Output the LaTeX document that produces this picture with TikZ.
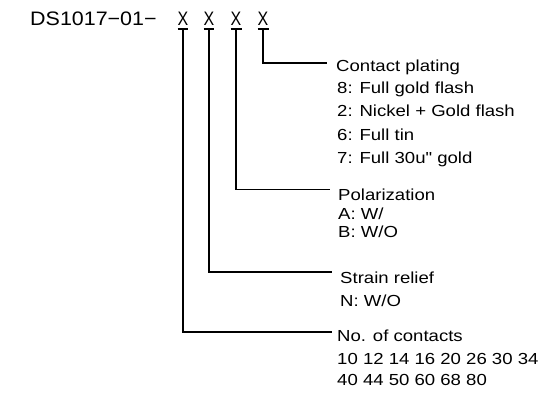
\documentclass[tikz,border=0pt]{standalone}
\usepackage{fontspec}
\setmainfont{Liberation Sans}[Ligatures=TeXOff]
\usetikzlibrary{calc}
\begin{document}
\begin{tikzpicture}[x=1pt,y=-1pt,
  lbl/.style={anchor=base west, inner sep=0pt, font=\fontsize{16}{19}\selectfont, xscale=1.16},
  code/.style={anchor=base west, inner sep=0pt, font=\fontsize{19.5}{22}\selectfont, xscale=1.1},
  digit/.style={anchor=base, inner sep=0pt, font=\fontsize{19.5}{22}\selectfont, xscale=0.82},
  conn/.style={line width=1.8pt},
  uline/.style={line width=1.5pt},
]
\useasboundingbox (0,0) rectangle (551,398);
% part number
\node[code] (pre) at (30,25.5) {DS1017−01−};
\node[digit] (x1) at (183,25.5) {X};
\node[digit] (x2) at (209,25.5) {X};
\node[digit] (x3) at (236,25.5) {X};
\node[digit] (x4) at (263,25.5) {X};
\foreach \n in {x1,x2,x3,x4}{
  \draw[uline] ($(\n.base west)+(0,3.5)$) -- ($(\n.base east)+(0,3.5)$);
}
% labels
\node[lbl] (cp) at (336,71.5) {Contact plating};
\node[lbl] (cp8) at (337,93.5) {8: Full gold flash};
\node[lbl] (cp2) at (337,117) {2: Nickel + Gold flash};
\node[lbl] (cp6) at (337,140.5) {6: Full tin};
\node[lbl] (cp7) at (337,163.5) {7: Full 30u" gold};
\node[lbl] (pol) at (338,200.5) {Polarization};
\node[lbl] (polA) at (338,219) {A: W/};
\node[lbl] (polB) at (338,237.5) {B: W/O};
\node[lbl] (sr) at (340,283) {Strain relief};
\node[lbl] (srN) at (340,306) {N: W/O};
\node[lbl] (noc) at (337,341) {No. of contacts};
\node[lbl] (noc1) at (337,364) {10 12 14 16 20 26 30 34};
\node[lbl] (noc2) at (337,385.5) {40 44 50 60 68 80};
% connector ends
\coordinate (e4) at (327,63);
\coordinate (e3) at (330,189.5);
\coordinate (e2) at (332,272);
\coordinate (e1) at (332,332);
\draw[conn] ($(x4.base)+(0,3.5)$) |- (e4);
\draw[conn] ($(x3.base)+(0,3.5)$) |- (e3);
\draw[conn] ($(x2.base)+(0,3.5)$) |- (e2);
\draw[conn] ($(x1.base)+(0,3.5)$) |- (e1);
\end{tikzpicture}
\end{document}
